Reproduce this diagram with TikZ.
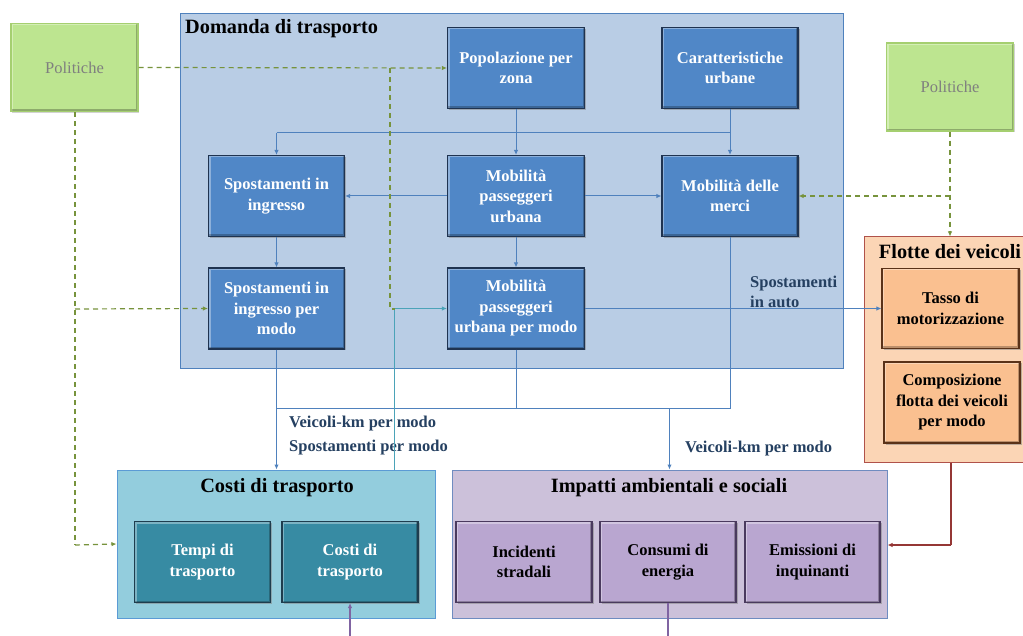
\documentclass[tikz,border=0pt]{standalone}
\usepackage{fontspec}
\setmainfont{Liberation Serif}
\usetikzlibrary{arrows.meta,shadows}
\definecolor{domfill}{HTML}{B9CDE5}
\definecolor{domline}{HTML}{4F81BD}
\definecolor{bluebox}{HTML}{5087C7}
\definecolor{bluedark}{HTML}{1F3350}
\definecolor{polfill}{HTML}{BDE590}
\definecolor{polline}{HTML}{A5CF70}
\definecolor{poltext}{HTML}{7F7F7F}
\definecolor{dashgreen}{HTML}{77933C}
\definecolor{tealout}{HTML}{93CDDD}
\definecolor{tealline}{HTML}{5B9BD5}
\definecolor{tealbox}{HTML}{378BA3}
\definecolor{tealdark}{HTML}{1E3D4E}
\definecolor{purout}{HTML}{CCC1DA}
\definecolor{purline}{HTML}{6F8CC0}
\definecolor{purbox}{HTML}{B9A6D0}
\definecolor{purdark}{HTML}{4A3A5E}
\definecolor{orout}{HTML}{FBD5B5}
\definecolor{orline}{HTML}{B0524A}
\definecolor{orbox}{HTML}{FAC090}
\definecolor{ordark}{HTML}{5A3218}
\definecolor{conblue}{HTML}{4F81BD}
\definecolor{conteal}{HTML}{4BA3B8}
\definecolor{conbrown}{HTML}{953735}
\definecolor{conpurple}{HTML}{8064A2}
\definecolor{labtext}{HTML}{254061}
\begin{document}
\begin{tikzpicture}[x=1pt,y=-1pt,
  bevel/.style={path picture={
    \draw[white,opacity=0.35,line width=4pt]
      (path picture bounding box.south west) -- (path picture bounding box.north west)
      -- (path picture bounding box.north east);
    \draw[black,opacity=0.25,line width=4pt]
      (path picture bounding box.north east) -- (path picture bounding box.south east)
      -- (path picture bounding box.south west);}},
  boxbase/.style={line width=1.2pt,align=center,inner sep=2pt,bevel,
    font=\fontsize{16.5}{20.5}\selectfont\bfseries,
    drop shadow={shadow xshift=1.5pt,shadow yshift=-1.5pt,opacity=0.5}},
  bluenode/.style={boxbase,draw=bluedark,fill=bluebox,text=white,minimum width=137pt,minimum height=81pt},
  tealnode/.style={boxbase,draw=tealdark,fill=tealbox,text=white,minimum width=136pt,minimum height=81pt},
  purnode/.style={boxbase,draw=purdark,fill=purbox,text=black,minimum width=136pt,minimum height=81pt},
  ornode/.style={boxbase,draw=ordark,fill=orbox,text=black,minimum width=137pt,minimum height=80pt},
  polnode/.style={draw=polline,fill=polfill,line width=1.2pt,text=poltext,bevel,
    font=\fontsize{16.5}{20}\selectfont,minimum width=127pt,minimum height=88pt,
    drop shadow={shadow xshift=1.2pt,shadow yshift=-1.2pt,opacity=0.35}},
  container/.style={line width=1pt,inner sep=0pt},
  titletext/.style={font=\fontsize{20.3}{24}\selectfont\bfseries,text=black,inner sep=0pt},
  labeltext/.style={font=\fontsize{16.5}{20}\selectfont\bfseries,text=labtext,inner sep=0pt,align=left},
  bluearrow/.style={draw=conblue,line width=1pt,-{Latex[length=5pt,width=4.5pt]}},
  blueline/.style={draw=conblue,line width=1pt},
  greenarrow/.style={draw=dashgreen,line width=1.2pt,dash pattern=on 5pt off 4pt,-{Latex[length=5pt,width=4.5pt]}},
  greenline/.style={draw=dashgreen,line width=1.2pt,dash pattern=on 5pt off 4pt}
]
\useasboundingbox (0,0) rectangle (1023,636);
\fill[white] (0,0) rectangle (1023,636);

% containers
\node[container,draw=domline,fill=domfill,minimum width=663pt,minimum height=354pt] (dom) at (511.5,191) {};
\node[titletext,anchor=north west] (domt) at (185,19) {Domanda di trasporto};
\node[container,draw=orline,fill=orout,minimum width=159pt,minimum height=225pt] (flo) at (943.5,349.5) {};
\node[titletext] (flot) at (950,252) {Flotte dei veicoli};
\node[container,draw=tealline,fill=tealout,minimum width=318pt,minimum height=148pt] (cos) at (276,544) {};
\node[titletext] (cost) at (277,488) {Costi di trasporto};
\node[container,draw=purline,fill=purout,minimum width=435pt,minimum height=148pt] (imp) at (669.5,544) {};
\node[titletext] (impt) at (669,488) {Impatti ambientali e sociali};

% policies
\node[polnode] (pol1) at (74.5,67.5) {Politiche};
\node[polnode] (pol2) at (950,87) {Politiche};

% demand boxes
\node[bluenode] (pop) at (516,68) {Popolazione per\\zona};
\node[bluenode,minimum width=136pt] (car) at (730,68) {Caratteristiche\\urbane};
\node[bluenode,minimum width=136pt] (spi) at (276.5,196) {Spostamenti in\\ingresso};
\node[bluenode] (mpu) at (516,196) {Mobilità\\passeggeri\\urbana};
\node[bluenode,minimum width=136pt] (mer) at (730,196) {Mobilità delle\\merci};
\node[bluenode,minimum width=136pt] (spm) at (276.5,308.5) {Spostamenti in\\ingresso per\\modo};
\node[bluenode] (mpm) at (516,308.5) {Mobilità\\passeggeri\\urbana per modo};

% fleet boxes
\node[ornode] (tas) at (950.5,308.5) {Tasso di\\motorizzazione};
\node[ornode,minimum width=136pt,minimum height=81pt] (com) at (952,402.5) {Composizione\\flotta dei veicoli\\per modo};

% cost boxes
\node[tealnode] (tem) at (202.5,562) {Tempi di\\trasporto};
\node[tealnode] (cin) at (350,562) {Costi di\\trasporto};

% impact boxes
\node[purnode] (inc) at (524,562) {Incidenti\\stradali};
\node[purnode] (con) at (668,562) {Consumi di\\energia};
\node[purnode,minimum width=135pt] (emi) at (812.5,562) {Emissioni di\\inquinanti};

% labels
\node[labeltext,anchor=west] (l1) at (289,424) {Veicoli-km per modo};
\node[labeltext,anchor=west] (l2) at (289,448) {Spostamenti per modo};
\node[labeltext,anchor=west] (l3) at (685,449) {Veicoli-km per modo};
\node[labeltext,anchor=west] (l4) at (750,292) {Spostamenti\\in auto};

% coordinates
\coordinate (j1) at (276.5,133);
\coordinate (j2) at (730,133);
\coordinate (bl) at (276.5,408);
\coordinate (br) at (730,408);
\coordinate (gx) at (390,68);
\coordinate (gy) at (390,309);
\coordinate (gz) at (395,309);
\coordinate (lp) at (75,309);
\coordinate (lc) at (75,545);
\coordinate (rp) at (950,196);
\coordinate (pb1) at (350,636);
\coordinate (pb2) at (668,636);
\coordinate (fb) at (951,545);

% blue connectors in demand box
\draw[blueline] (pop.south) -- (pop.south |- j1);
\draw[blueline] (car.south) -- (j2);
\draw[blueline] (j1) -- (j2);
\draw[bluearrow] (j1) -- (spi.north);
\draw[bluearrow] (pop.south |- j1) -- (mpu.north);
\draw[bluearrow] (j2) -- (mer.north);
\draw[bluearrow] (mpu.west) -- (spi.east);
\draw[bluearrow] (mpu.east) -- (mer.east -| mer.west);
\draw[bluearrow] (spi.south) -- (spm.north);
\draw[bluearrow] (mpu.south) -- (mpm.north);
\draw[bluearrow] (mpm.east) -- (tas.west);

% collector to costs and impacts
\draw[blueline] (spm.south) -- (bl);
\draw[bluearrow] (bl) -- (bl |- cos.north);
\draw[blueline] (mpm.south) -- (mpm.south |- bl);
\draw[blueline] (mer.south) -- (br) -- (bl);
\draw[bluearrow] (imp.north |- bl) -- (imp.north);

% teal feedback
\draw[draw=conteal,line width=1pt,-{Latex[length=5pt,width=4.5pt]}] (394,470) |- (mpm.west);

% green dashed policies
\draw[greenarrow] (pol1.east) -- (pop.west);
\draw[greenline] (gx) -- (gy) -- (gz);
\draw[greenline] (pol1.south -| lp) -- (lc);
\draw[greenarrow] (lc) -- (cos.west);
\draw[greenarrow] (lp) -- (spm.west);
\draw[greenarrow] (pol2.south) -- (flo.north -| pol2.south);
\draw[greenarrow] (rp) -- (mer.east);

% brown fleet -> impacts
\draw[draw=conbrown,line width=1.2pt] (flo.south -| fb) -- (fb);
\draw[draw=conbrown,line width=1.2pt,-{Latex[length=5pt,width=4.5pt]}] (fb) -- (imp.east |- fb);

% purple energy -> costs
\draw[draw=conpurple,line width=1.2pt] (con.south) -- (pb2);
\draw[draw=conpurple,line width=1.2pt,-{Latex[length=5pt,width=4.5pt]}] (pb1) -- (cin.south);
\end{tikzpicture}
\end{document}
